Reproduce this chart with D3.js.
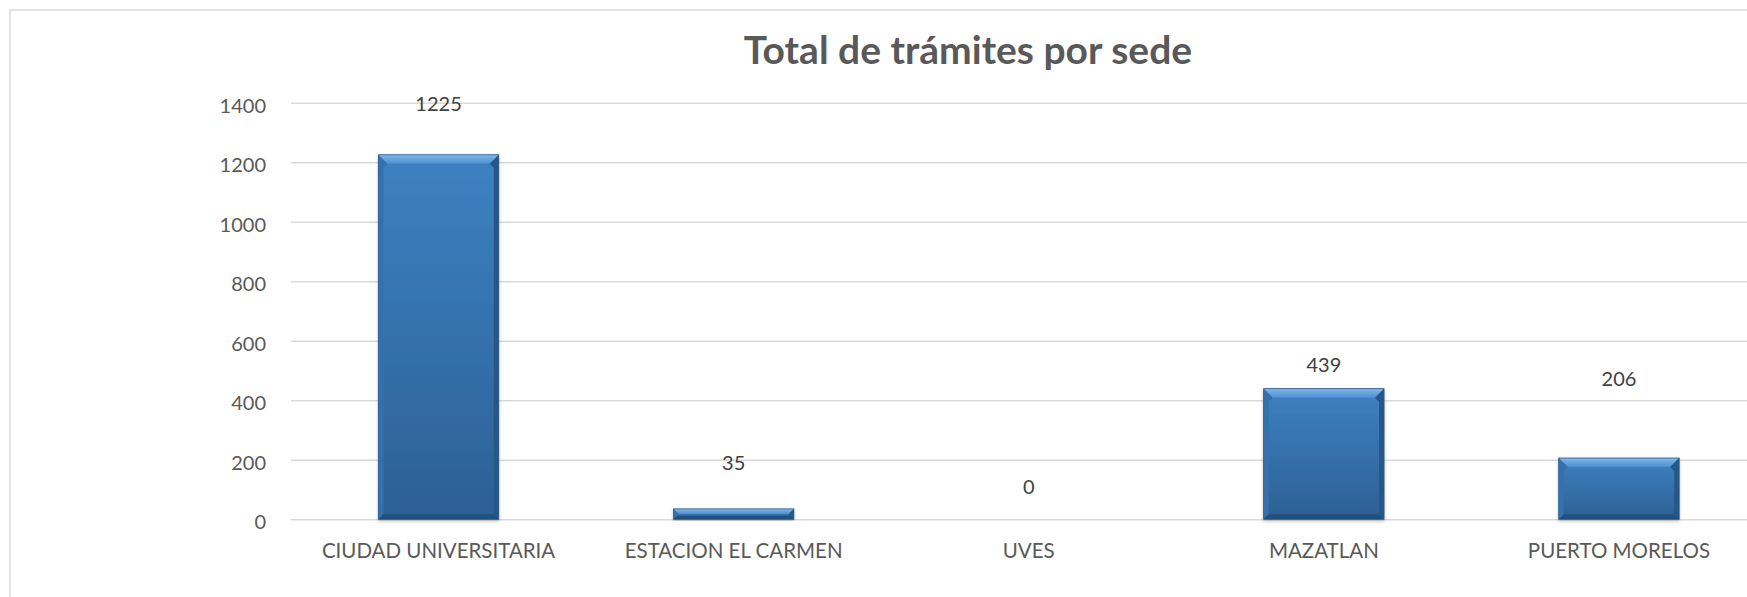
<!DOCTYPE html>
<html>
<head>
<meta charset="utf-8">
<script src="https://cdn.jsdelivr.net/npm/d3@7"></script>
<style>
  body { margin: 0; background: #fff; }
  #chart text { font-family: Lato, "Open Sans", sans-serif; }
</style>
</head>
<body>
<div id="chart"></div>
<script>
// data
const sedes = ["CIUDAD UNIVERSITARIA", "ESTACION EL CARMEN", "UVES", "MAZATLAN", "PUERTO MORELOS"];
const tramites = [1225, 35, 0, 439, 206];
const yTicks = [0, 200, 400, 600, 800, 1000, 1200, 1400];
// labels were dragged by hand in the original, px above each bar top
const labelLift = [44, 39, 25, 17, 72];

document.addEventListener('DOMContentLoaded', function() {
    const W = 1747, H = 597;
    const svg = d3.select('#chart').append('svg')
        .attr('width', W)
        .attr('height', H);

    // chart frame, runs off the right and bottom edge
    svg.append('rect')
        .attr('x', 10).attr('y', 10)
        .attr('width', 1900).attr('height', 800)
        .attr('fill', '#fff')
        .attr('stroke', '#d9d9d9')
        .attr('stroke-width', 1.5);

    svg.append('text')
        .attr('x', 968).attr('y', 64)
        .attr('text-anchor', 'middle')
        .attr('font-size', 39)
        .attr('font-weight', 'bold')
        .attr('fill', '#595959')
        .text('Total de trámites por sede');

    const left = 291, plotW = 5 * 295.1;
    const x = d3.scaleBand().domain(sedes).range([left, left + plotW]).paddingInner(0.592).paddingOuter(0.296);
    const y = d3.scaleLinear().domain([0, 1400]).range([519.3, 102.7]);

    // gridlines + y labels
    const yAxis = svg.append('g')
        .attr('transform', `translate(${left},0)`)
        .call(d3.axisLeft(y).tickValues(yTicks).tickFormat(d3.format('d')).tickSize(-(W - left)).tickPadding(25));
    yAxis.select('.domain').remove();
    yAxis.selectAll('.tick line').attr('stroke', '#d9d9d9').attr('stroke-width', 1.5);
    yAxis.selectAll('.tick text')
        .attr('font-size', 20).attr('fill', '#595959')
        .attr('dy', 9.3);

    // category labels
    const xAxis = svg.append('g')
        .attr('transform', `translate(0,${y(0)})`)
        .call(d3.axisBottom(x).tickSize(0).tickPadding(24));
    xAxis.select('.domain').remove();
    xAxis.selectAll('.tick text')
        .attr('font-size', 20.5).attr('fill', '#595959')
        .attr('dy', '0.71em');

    const defs = svg.append('defs');
    const grad = defs.append('linearGradient').attr('id', 'barGrad')
        .attr('x1', 0).attr('y1', 0).attr('x2', 0).attr('y2', 1);
    grad.append('stop').attr('offset', '0%').attr('stop-color', '#3d81c2');
    grad.append('stop').attr('offset', '100%').attr('stop-color', '#2c6094');
    const topGrad = defs.append('linearGradient').attr('id', 'topGrad')
        .attr('x1', 0).attr('y1', 0).attr('x2', 0).attr('y2', 1);
    topGrad.append('stop').attr('offset', '0%').attr('stop-color', '#82b8ea');
    topGrad.append('stop').attr('offset', '100%').attr('stop-color', '#4b8fd0');
    const shadow = defs.append('filter').attr('id', 'shadow')
        .attr('x', '-10%').attr('y', '-10%').attr('width', '120%').attr('height', '120%');
    shadow.append('feDropShadow').attr('dx', 0).attr('dy', 1.5).attr('stdDeviation', 1.5)
        .attr('flood-color', '#000').attr('flood-opacity', 0.25);

    const data = sedes.map((s, i) => ({ sede: s, val: tramites[i], lift: labelLift[i] }));

    const bars = svg.selectAll('g.bar')
        .data(data.filter(d => d.val > 0))
        .enter().append('g').attr('class', 'bar')
        .attr('filter', 'url(#shadow)');

    bars.each(function(d) {
        const g = d3.select(this);
        const x0 = x(d.sede), x1 = x0 + x.bandwidth();
        const y0 = y(d.val), y1 = y(0);
        const b = Math.min(9, (y1 - y0) / 2), s = Math.min(5, (y1 - y0) / 3);
        g.append('rect')
            .attr('x', x0).attr('y', y0)
            .attr('width', x1 - x0).attr('height', y1 - y0)
            .attr('fill', 'url(#barGrad)');
        // bevel: top, sides, bottom
        g.append('polygon')
            .attr('points', [[x0, y0], [x1, y0], [x1 - b, y0 + b], [x0 + b, y0 + b]].join(' '))
            .attr('fill', 'url(#topGrad)');
        g.append('polygon')
            .attr('points', [[x0, y0], [x0 + b, y0 + b], [x0 + s, y0 + b + 4], [x0 + s, y1 - s], [x0, y1]].join(' '))
            .attr('fill', '#3572ad');
        g.append('polygon')
            .attr('points', [[x1, y0], [x1 - b, y0 + b], [x1 - s, y0 + b + 4], [x1 - s, y1 - s], [x1, y1]].join(' '))
            .attr('fill', '#285887');
        g.append('polygon')
            .attr('points', [[x0, y1], [x0 + s, y1 - s], [x1 - s, y1 - s], [x1, y1]].join(' '))
            .attr('fill', '#24507d');
        g.append('rect')
            .attr('x', x0).attr('y', y0)
            .attr('width', x1 - x0).attr('height', y1 - y0)
            .attr('fill', 'none').attr('stroke', '#2a5c8e').attr('stroke-width', 0.8);
    });

    svg.selectAll('text.val')
        .data(data)
        .enter().append('text').attr('class', 'val')
        .attr('x', d => x(d.sede) + x.bandwidth() / 2)
        .attr('y', d => y(d.val) - d.lift)
        .attr('text-anchor', 'middle')
        .attr('font-size', 20)
        .attr('fill', '#404040')
        .text(d => d.val);
});
</script>
</body>
</html>
